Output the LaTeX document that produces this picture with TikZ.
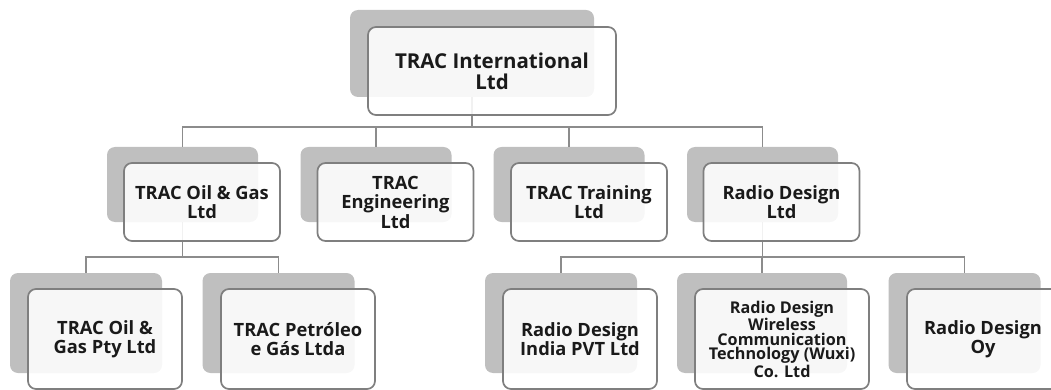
\documentclass[tikz,border=0pt]{standalone}
\usepackage{fontspec}
\setmainfont{Open Sans}
\begin{document}
\begin{tikzpicture}[x=1pt,y=-1pt,
  shadowbox/.style={draw=none,fill=shadowgray,rounded corners=8pt,inner sep=0pt,minimum width=151pt,minimum height=75pt},
  card/.style={draw=cardborder,line width=1.7pt,fill=white,fill opacity=0.88,text opacity=1,rounded corners=8pt,inner sep=0pt,minimum width=156pt,minimum height=78pt,align=center,font=\bfseries\fontsize{18.3}{19.5}\selectfont,text=textcol},
  link/.style={draw=linkgray,line width=1.8pt},
]
\definecolor{shadowgray}{HTML}{BFBFBF}
\definecolor{cardborder}{HTML}{7F7F7F}
\definecolor{linkgray}{HTML}{8C8C8C}
\definecolor{textcol}{HTML}{1A1A1A}
\useasboundingbox (0,0) rectangle (1051,390);
% shadows
\node[shadowbox,minimum width=244pt,minimum height=87pt] (s0) at (472,53.5) {};
\node[shadowbox] (s1) at (182.5,184.5) {};
\node[shadowbox] (s2) at (376,184.5) {};
\node[shadowbox] (s3) at (569,184.5) {};
\node[shadowbox] (s4) at (762.5,184.5) {};
\node[shadowbox,minimum width=152pt,minimum height=100pt] (s5) at (86,323) {};
\node[shadowbox,minimum width=152pt,minimum height=100pt] (s6) at (278.5,323) {};
\node[shadowbox,minimum width=152pt,minimum height=100pt] (s7) at (561,323) {};
\node[shadowbox,minimum width=170pt,minimum height=100pt] (s8) at (762,323) {};
\node[shadowbox,minimum width=152pt,minimum height=100pt] (s9) at (964.5,323) {};
% connectors
\foreach \c in {s1,s2,s3,s4}{\draw[link] (s0.south) -- ++(0,30) -| (\c.north);}
\foreach \c in {s5,s6}{\draw[link] (s1.south) -- ++(0,35) -| (\c.north);}
\foreach \c in {s7,s8,s9}{\draw[link] (s4.south) -- ++(0,35) -| (\c.north);}
% cards
\node[card,minimum width=248pt,minimum height=88pt,font=\bfseries\fontsize{20.5}{21}\selectfont] (c0) at (492,71) {TRAC International\\Ltd};
\node[card] (c1) at (202,202) {TRAC Oil \& Gas\\Ltd};
\node[card] (c2) at (395.5,202) {TRAC\\Engineering\\Ltd};
\node[card] (c3) at (589,202) {TRAC Training\\Ltd};
\node[card] (c4) at (781.5,202) {Radio Design\\Ltd};
\node[card,minimum width=154pt,minimum height=100pt] (c5) at (105,339) {TRAC Oil \&\\Gas Pty Ltd};
\node[card,minimum width=154pt,minimum height=100pt] (c6) at (298,339) {TRAC Petróleo\\e Gás Ltda};
\node[card,minimum width=154pt,minimum height=100pt] (c7) at (580,339) {Radio Design\\India PVT Ltd};
\node[card,minimum width=174pt,minimum height=100pt,font=\bfseries\fontsize{16.2}{14.8}\selectfont] (c8) at (782,339) {Radio Design\\Wireless\\Communication\\Technology (Wuxi)\\Co. Ltd};
\node[card,minimum width=152pt,minimum height=100pt] (c9) at (983,339) {Radio Design\\Oy};
\end{tikzpicture}
\end{document}
